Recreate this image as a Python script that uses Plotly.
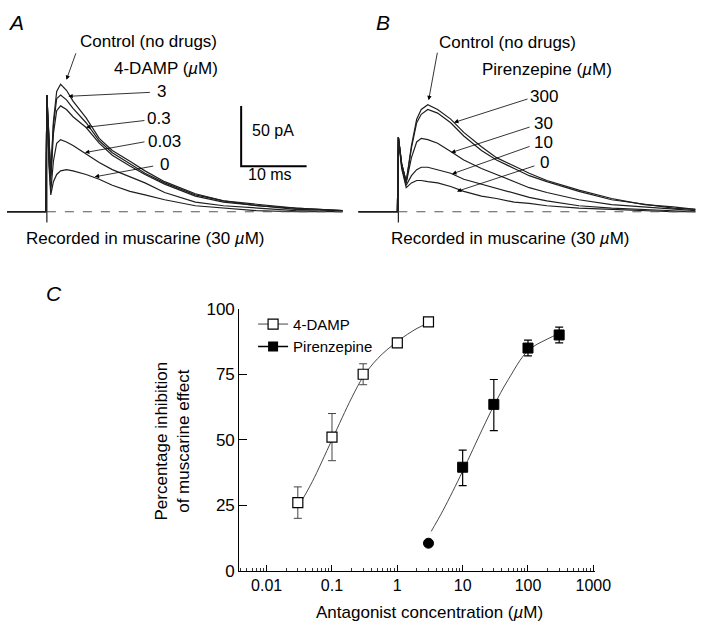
import plotly.graph_objects as go

# ---------------- data ----------------
# Panel A: 4-DAMP traces (time in ms, current in pA above baseline)
tA = [-6.1, -0.15, 0, 0.3, 0.6, 1.0, 1.5, 2.1, 3, 4, 6, 8, 10, 12.7, 15, 18, 22.7, 27, 32, 38, 45.2]
A_control = [0, 0, 97, 60, 32, 75, 100, 106, 101, 92, 78, 61, 51, 42, 34, 25, 15, 9, 6, 3, 1]
A_3 = [0, 0, 97, 58, 30, 72, 94, 97, 93, 86, 74, 59, 49, 40, 32, 24, 14, 9, 5, 3, 1]
A_03 = [0, 0, 97, 55, 26, 65, 84, 88, 85, 79, 70, 57, 47, 38, 31, 23, 13, 8, 5, 2, 1]
A_003 = [0, 0, 97, 45, 17, 42, 57, 60, 58, 55, 48, 41, 35, 29, 24, 16, 8, 5, 3, 1, 0]
A_0 = [0, 0, 97, 40, 14, 25, 31, 34, 35, 34, 31, 27, 22, 17, 14, 10, 5, 3, 1, 0, 0]
A_artifact = [-9, 97]

# Panel B: pirenzepine traces
tB = [-6.1, -0.15, 0, 0.5, 1.2, 2, 2.8, 3.5, 4.5, 6, 8, 10, 12.7, 15, 17.7, 20, 22.7, 27.6, 32.6, 37.6, 42, 45.4]
B_control = [0, 0, 62, 40, 25, 55, 77, 85, 89, 85, 77, 66, 54, 45, 38, 32, 26, 18, 11, 6, 4, 2]
B_300 = [0, 0, 62, 40, 25, 53, 74, 81, 85, 82, 74, 63, 51, 43, 36, 30, 25, 17, 10, 6, 3, 2]
B_30 = [0, 0, 62, 40, 24, 45, 58, 61, 60, 57, 50, 43, 36, 31, 25, 20, 16, 10, 6, 4, 2, 1]
B_10 = [0, 0, 62, 38, 22, 30, 35, 37, 37, 35, 32, 27, 23, 19, 15, 12, 9, 5, 3, 2, 1, 0]
B_0 = [0, 0, 62, 36, 20, 24, 26, 26, 25, 24, 21, 17, 13, 11, 8, 7, 5, 3, 2, 1, 0, 0]
B_artifact = [-9, 62]

# scale bar (A)
bar_t0, bar_ms = 29.7, 10
bar_i0, bar_pA = 37.9, 50

# Panel C: concentration-response
damp_conc = [0.03, 0.1, 0.3, 1, 3]
damp_inh = [26, 51, 75, 87, 95]
damp_err_plus = [6, 9, 4, 1.5, 0.5]
damp_err_minus = [6, 9, 4, 1, 0.5]
damp_fit_conc = [0.035, 0.05, 0.1, 0.2, 0.3, 0.5, 1, 2, 3]
damp_fit_inh = [27, 34, 50, 66, 74, 81, 87.5, 92.5, 94.5]

pir_conc = [3, 10, 30, 100, 300]
pir_inh = [10.5, 39.5, 63.5, 85, 90]
pir_err_plus = [1, 6.5, 9.5, 3, 3]
pir_err_minus = [1, 7, 10, 3, 3]
pir_fit_conc = [3.3, 5, 10, 20, 30, 50, 100, 200, 300]
pir_fit_inh = [15, 23, 38, 54, 63, 73, 84, 88.5, 90.5]

x_ticks = [0.01, 0.1, 1, 10, 100, 1000]
x_ticklabels = ["0.01", "0.1", "1", "10", "100", "1000"]
x_minor_ticks = [m * 10.0 ** k for k in range(-3, 3) for m in range(2, 10)
                 if 0.004 <= m * 10.0 ** k <= 1000]
y_ticks = [0, 25, 50, 75, 100]

# ---------------- figure ----------------
W, H = 720, 636
FONT = "Liberation Sans, Arial, sans-serif"
TRACE_COL = "#1e1e1e"


def px(x, y):
    return x / W, 1 - y / H


fig = go.Figure()

# Panel A traces
for vals in [A_0, A_003, A_03, A_3, A_control]:
    fig.add_trace(go.Scatter(x=tA, y=vals, mode="lines", line=dict(color=TRACE_COL, width=1.2),
                             xaxis="x", yaxis="y", showlegend=False, hoverinfo="skip"))
fig.add_trace(go.Scatter(x=[0, 0], y=A_artifact, mode="lines", line=dict(color=TRACE_COL, width=1.2),
                         xaxis="x", yaxis="y", showlegend=False))
fig.add_trace(go.Scatter(x=[0, tA[-1]], y=[0, 0], mode="lines",
                         line=dict(color="#555", width=1, dash="dash"),
                         xaxis="x", yaxis="y", showlegend=False))
# scale bar
fig.add_trace(go.Scatter(x=[bar_t0, bar_t0, bar_t0 + bar_ms], y=[bar_i0 + bar_pA, bar_i0, bar_i0],
                         mode="lines", line=dict(color="black", width=2),
                         xaxis="x", yaxis="y", showlegend=False))

# Panel B traces
for vals in [B_0, B_10, B_30, B_300, B_control]:
    fig.add_trace(go.Scatter(x=tB, y=vals, mode="lines", line=dict(color=TRACE_COL, width=1.2),
                             xaxis="x2", yaxis="y2", showlegend=False, hoverinfo="skip"))
fig.add_trace(go.Scatter(x=[0, 0], y=B_artifact, mode="lines", line=dict(color=TRACE_COL, width=1.2),
                         xaxis="x2", yaxis="y2", showlegend=False))
fig.add_trace(go.Scatter(x=[0, tB[-1]], y=[0, 0], mode="lines",
                         line=dict(color="#555", width=1, dash="dash"),
                         xaxis="x2", yaxis="y2", showlegend=False))

# Panel C fits
fig.add_trace(go.Scatter(x=damp_fit_conc, y=damp_fit_inh, mode="lines", line=dict(color="#333", width=0.9, shape="spline"),
                         xaxis="x3", yaxis="y3", showlegend=False))
fig.add_trace(go.Scatter(x=pir_fit_conc, y=pir_fit_inh, mode="lines", line=dict(color="#333", width=0.9, shape="spline"),
                         xaxis="x3", yaxis="y3", showlegend=False))
# data points
fig.add_trace(go.Scatter(x=damp_conc, y=damp_inh, mode="markers",
                         marker=dict(symbol="square", size=10, color="white", line=dict(color="black", width=1.2)),
                         error_y=dict(type="data", array=damp_err_plus, arrayminus=damp_err_minus,
                                      color="#444", thickness=1, width=4),
                         xaxis="x3", yaxis="y3", showlegend=False, cliponaxis=False))
fig.add_trace(go.Scatter(x=pir_conc, y=pir_inh, mode="markers",
                         marker=dict(symbol=["circle", "square", "square", "square", "square"], size=10,
                                     color="black", line=dict(color="black", width=1)),
                         error_y=dict(type="data", array=pir_err_plus, arrayminus=pir_err_minus,
                                      color="black", thickness=1.2, width=4),
                         xaxis="x3", yaxis="y3", showlegend=False, cliponaxis=False))
# legend entries
fig.add_trace(go.Scatter(x=[None], y=[None], mode="lines+markers", name="4-DAMP",
                         line=dict(color="#444", width=1),
                         marker=dict(symbol="square", size=10, color="white", line=dict(color="black", width=1.2)),
                         xaxis="x3", yaxis="y3"))
fig.add_trace(go.Scatter(x=[None], y=[None], mode="lines+markers", name="Pirenzepine",
                         line=dict(color="black", width=1.5),
                         marker=dict(symbol="square", size=10, color="black"),
                         xaxis="x3", yaxis="y3"))

hidden = dict(visible=False, showgrid=False, zeroline=False, fixedrange=True)
tr_x_range = [-48 / 6.7, (360 - 48) / 6.7]
tr_y_range = [-(250 - 209) / 1.24, 209 / 1.24]

cx0, cy_top = px(245, 309)
cx1, cy_bot = px(609, 579)

fig.update_layout(
    width=W, height=H,
    margin=dict(l=0, r=0, t=0, b=0),
    paper_bgcolor="white", plot_bgcolor="rgba(0,0,0,0)",
    font=dict(family=FONT, size=16, color="black"),
    xaxis=dict(domain=[0, 0.5], range=tr_x_range, **hidden),
    yaxis=dict(domain=[1 - 250 / H, 1], range=tr_y_range, **hidden),
    xaxis2=dict(domain=[0.5, 1.0], range=tr_x_range, **hidden),
    yaxis2=dict(domain=[1 - 250 / H, 1], range=tr_y_range, **hidden),
    xaxis3=dict(domain=[cx0, cx1], type="log", range=[-2.42, 3.02], anchor="y3",
                tickmode="array", tickvals=x_ticks, ticktext=x_ticklabels, ticks="inside", ticklen=6,
                tickcolor="black", showline=True, linecolor="black", linewidth=1,
                showgrid=False, zeroline=False, tickfont=dict(size=16),
                minor=dict(tickmode="array", tickvals=x_minor_ticks, ticks="inside", ticklen=3,
                           tickcolor="#333", showgrid=False)),
    yaxis3=dict(domain=[cy_bot, cy_top], range=[0, 100], anchor="x3",
                tickvals=y_ticks, ticks="inside", ticklen=8, tickcolor="black",
                showline=True, linecolor="black", linewidth=1,
                showgrid=False, zeroline=False, tickfont=dict(size=17)),
    legend=dict(x=0.36, y=1 - 308 / H, xanchor="left", yanchor="top",
                bgcolor="rgba(0,0,0,0)", font=dict(size=15), tracegroupgap=0,
                itemwidth=30),
    showlegend=True,
)

ann = []


def text(x, y, s, size=17, italic=False, xanchor="center"):
    ax_, ay_ = px(x, y)
    if italic:
        s = "<i>" + s + "</i>"
    ann.append(dict(x=ax_, y=ay_, xref="paper", yref="paper", text=s, showarrow=False,
                    font=dict(size=size, family=FONT), xanchor=xanchor, yanchor="middle"))


def arrow(tail, head):
    hx, hy = px(*head)
    ann.append(dict(x=hx, y=hy, xref="paper", yref="paper", text="", showarrow=True,
                    ax=tail[0] - head[0], ay=tail[1] - head[1], axref="pixel", ayref="pixel",
                    arrowhead=2, arrowsize=1.1, arrowwidth=0.8, arrowcolor="black"))


MU = "<i>µ</i>M"
# Panel labels
text(16, 14, "A", size=21, italic=True)
text(392, 14, "B", size=21, italic=True)
text(55, 293, "C", size=21, italic=True)

# Panel A labels
text(152, 34, "Control (no drugs)")
arrow((78, 45), (68, 73))
text(170, 61, "4-DAMP (" + MU + ")")
text(165, 85, "3")
arrow((153, 86), (70, 90))
text(163, 113, "0.3")
arrow((148, 115), (88, 122))
text(168, 137, "0.03")
arrow((148, 137), (87, 148))
text(168, 160, "0")
arrow((157, 162), (97, 173))
text(280, 125, "50 pA", size=16)
text(277, 171, "10 ms", size=16)
text(148, 237, "Recorded in muscarine (30 " + MU + ")")

# Panel B labels
text(520, 35, "Control (no drugs)")
arrow((448, 45), (439, 94))
text(560, 62, "Pirenzepine (" + MU + ")")
text(557, 90, "300")
arrow((540, 93), (465, 117))
text(557, 118, "30")
arrow((542, 122), (462, 148))
text(557, 138, "10")
arrow((542, 142), (463, 170))
text(558, 158, "0")
arrow((547, 162), (468, 188))
text(522, 237, "Recorded in muscarine (30 " + MU + ")")

# Panel C titles
yt_x, yt_y = px(177, 445)
ann.append(dict(x=yt_x, y=yt_y, xref="paper", yref="paper",
                text="Percentage inhibition<br>of muscarine effect", textangle=-90,
                showarrow=False, font=dict(size=17, family=FONT), xanchor="center", yanchor="middle"))
text(440, 622, "Antagonist concentration (" + MU + ")")

fig.update_layout(annotations=ann)

fig.write_html("out.html", config={"displayModeBar": False},
               post_script="document.body.style.margin='0';")
